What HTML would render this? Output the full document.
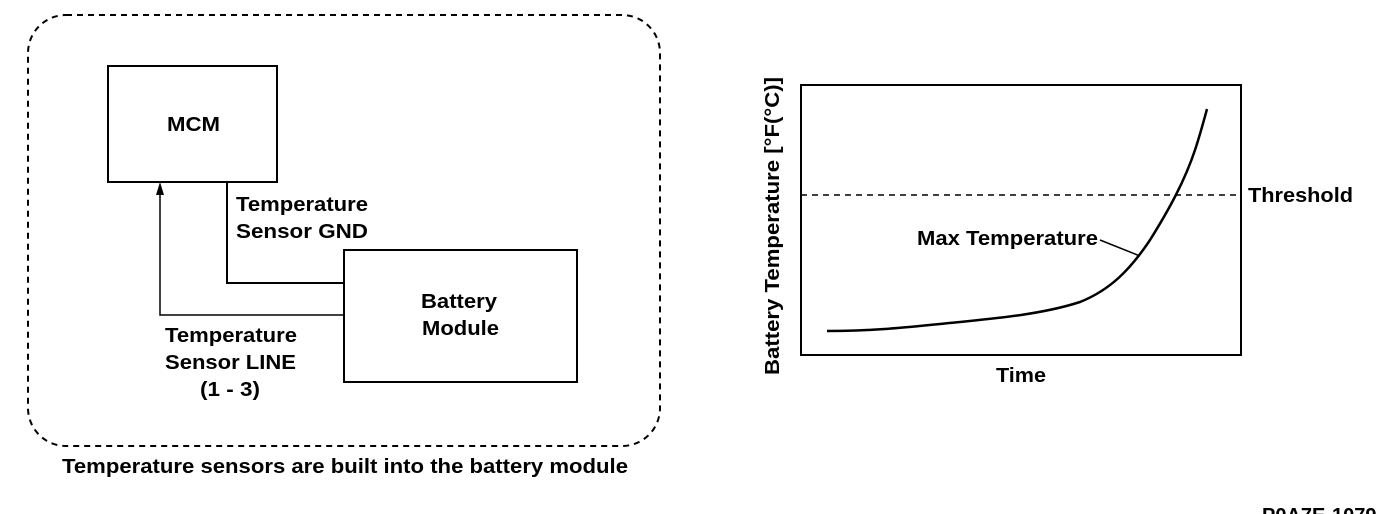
<!DOCTYPE html>
<html><head><style>
body{margin:0;background:#fff;}
svg{display:block;}
text{font-family:"Liberation Sans",Arial,sans-serif;font-weight:bold;font-size:20px;fill:#000;}
</style></head><body>
<svg width="1392" height="514" viewBox="0 0 1392 514" xmlns="http://www.w3.org/2000/svg">
<rect x="28" y="15" width="632" height="431" rx="38" ry="38" fill="none" stroke="#000" stroke-width="2" stroke-dasharray="6,5"/>
<rect x="108" y="66" width="169" height="116" fill="none" stroke="#000" stroke-width="2"/>
<text x="167" y="131" textLength="53" lengthAdjust="spacingAndGlyphs">MCM</text>
<rect x="344" y="250" width="233" height="132" fill="none" stroke="#000" stroke-width="2"/>
<text x="421" y="308" textLength="76" lengthAdjust="spacingAndGlyphs">Battery</text>
<text x="422" y="335" textLength="77" lengthAdjust="spacingAndGlyphs">Module</text>
<polyline points="227,182 227,283 344,283" fill="none" stroke="#000" stroke-width="2"/>
<polyline points="344,315 160,315 160,192" fill="none" stroke="#000" stroke-width="1.5"/>
<polygon points="160,182 156,195 164,195" fill="#000"/>
<text x="236" y="211" textLength="132" lengthAdjust="spacingAndGlyphs">Temperature</text>
<text x="236" y="238" textLength="132" lengthAdjust="spacingAndGlyphs">Sensor GND</text>
<text x="165" y="342" textLength="132" lengthAdjust="spacingAndGlyphs">Temperature</text>
<text x="165" y="369" textLength="131" lengthAdjust="spacingAndGlyphs">Sensor LINE</text>
<text x="200" y="396" textLength="60" lengthAdjust="spacingAndGlyphs">(1 - 3)</text>
<text x="62" y="473" textLength="566" lengthAdjust="spacingAndGlyphs">Temperature sensors are built into the battery module</text>
<rect x="801" y="85" width="440" height="270" fill="none" stroke="#000" stroke-width="2"/>
<line x1="801" y1="195" x2="1241" y2="195" stroke="#000" stroke-width="1.5" stroke-dasharray="6,5"/>
<text x="1248" y="202" textLength="105" lengthAdjust="spacingAndGlyphs">Threshold</text>
<path d="M827,331 C870,331 900,328 940,324 C990,319 1040,315 1080,302 C1110,290 1130,270 1150,240 C1170,208 1185,180 1195,150 C1200,135 1204,120 1207,109" fill="none" stroke="#000" stroke-width="2.5"/>
<line x1="1100" y1="240" x2="1140" y2="256" stroke="#000" stroke-width="1.5"/>
<text x="917" y="245" textLength="181" lengthAdjust="spacingAndGlyphs">Max Temperature</text>
<text x="996" y="382" textLength="50" lengthAdjust="spacingAndGlyphs">Time</text>
<text transform="translate(779,375) rotate(-90)" textLength="298" lengthAdjust="spacingAndGlyphs">Battery Temperature [°F(°C)]</text>
<text x="1262" y="522">P0A7E-1079</text>
</svg>
</body></html>
